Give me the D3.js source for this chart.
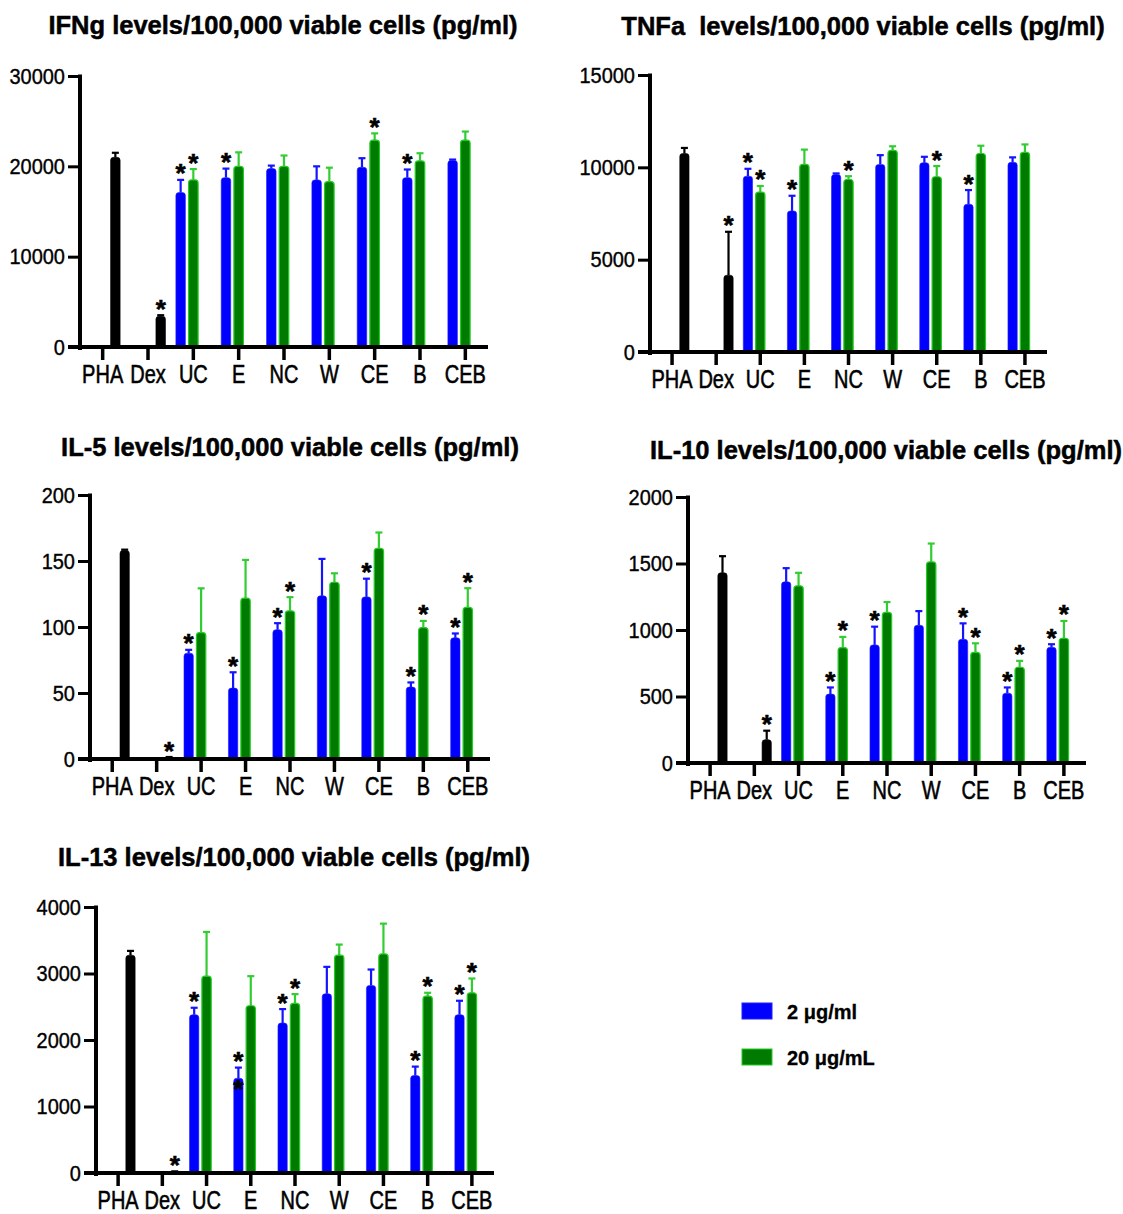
<!DOCTYPE html>
<html>
<head>
<meta charset="utf-8">
<script src="https://cdn.jsdelivr.net/npm/d3@7"></script>
<style>
  body { margin: 0; background: #fff; }
  text { font-family: "Liberation Sans", Arial, sans-serif; fill: #000; }
</style>
</head>
<body>
<svg id="chart" width="1123" height="1214"></svg>
<script>
// categories
const categories = ["PHA", "Dex", "UC", "E", "NC", "W", "CE", "B", "CEB"];
const controls = ["PHA", "Dex"];
const extracts = ["UC", "E", "NC", "W", "CE", "B", "CEB"];
const doses = ["2 μg/ml", "20 μg/mL"];

// IFNg
const ifngControl = [21000, 3400];
const ifngControlErr = [500, 120];
const ifngControlStar = [0, 1];
const ifngLow = [17100, 18750, 19750, 18500, 19900, 18750, 20650];
const ifngLowErr = [1400, 1000, 330, 1500, 1000, 900, 100];
const ifngLowStar = [1, 1, 0, 0, 0, 1, 0];
const ifngHigh = [18500, 20000, 20000, 18300, 22900, 20600, 22900];
const ifngHighErr = [1200, 1550, 1200, 1550, 750, 850, 950];
const ifngHighStar = [1, 0, 0, 0, 1, 0, 0];

// TNFa
const tnfControl = [10750, 4160];
const tnfControlErr = [300, 2350];
const tnfControlStar = [0, 1];
const tnfLow = [9520, 7640, 9610, 10160, 10250, 8000, 10270];
const tnfLowErr = [400, 820, 60, 500, 320, 770, 270];
const tnfLowStar = [1, 1, 0, 0, 0, 1, 0];
const tnfHigh = [8660, 10160, 9340, 10920, 9490, 10750, 10810];
const tnfHighErr = [330, 800, 180, 220, 580, 420, 430];
const tnfHighStar = [1, 0, 1, 0, 1, 0, 0];

// IL-5
const il5Control = [158, 1.2];
const il5ControlErr = [0.6, 0.3];
const il5ControlStar = [0, 1];
const il5Low = [80.2, 53.7, 97.9, 123.6, 122.8, 54.5, 91.8];
const il5LowErr = [2.5, 12, 5, 28, 13.8, 3.5, 3.3];
const il5LowStar = [1, 1, 1, 0, 1, 1, 1];
const il5High = [95.8, 121.8, 112.2, 133.9, 159.6, 99.6, 114.8];
const il5HighErr = [33.5, 29, 10.4, 6.8, 12, 5, 14.6];
const il5HighStar = [0, 0, 1, 0, 0, 1, 1];

// IL-10
const il10Control = [1430, 175];
const il10ControlErr = [125, 68];
const il10ControlStar = [0, 1];
const il10Low = [1362, 518, 888, 1035, 930, 525, 870];
const il10LowErr = [103, 50, 137, 107, 120, 43, 23];
const il10LowStar = [0, 1, 1, 0, 1, 1, 1];
const il10High = [1332, 868, 1132, 1512, 832, 720, 938];
const il10HighErr = [98, 80, 78, 138, 68, 48, 130];
const il10HighStar = [0, 1, 0, 0, 1, 1, 1];

// IL-13
const il13Control = [3275, 20];
const il13ControlErr = [65, 5];
const il13ControlStar = [0, 1];
const il13Low = [2380, 1425, 2255, 2695, 2820, 1465, 2380];
const il13LowErr = [105, 160, 210, 405, 240, 135, 210];
const il13LowStar = [1, 1, 1, 0, 0, 1, 1];
const il13High = [2960, 2515, 2550, 3275, 3295, 2660, 2710];
const il13HighErr = [665, 445, 140, 160, 455, 50, 215];
const il13HighStar = [0, 0, 1, 0, 0, 1, 1];
// stray asterisk sitting inside the E (2 μg/ml) bar
const il13ExtraStar = [{ cat: "E", key: "low", value: 1350 }];

const panels = [
  { title: "IFNg levels/100,000 viable cells (pg/ml)", ctrl: [ifngControl, ifngControlErr, ifngControlStar],
    low: [ifngLow, ifngLowErr, ifngLowStar], high: [ifngHigh, ifngHighErr, ifngHighStar], extra: [],
    max: 30000, step: 10000, left: 80, right: 488, top: 76, bottom: 347, tx: 283, ty: 34 },
  { title: "TNFa  levels/100,000 viable cells (pg/ml)", ctrl: [tnfControl, tnfControlErr, tnfControlStar],
    low: [tnfLow, tnfLowErr, tnfLowStar], high: [tnfHigh, tnfHighErr, tnfHighStar], extra: [],
    max: 15000, step: 5000, left: 650, right: 1047, top: 75, bottom: 352, tx: 863, ty: 35 },
  { title: "IL-5 levels/100,000 viable cells (pg/ml)", ctrl: [il5Control, il5ControlErr, il5ControlStar],
    low: [il5Low, il5LowErr, il5LowStar], high: [il5High, il5HighErr, il5HighStar], extra: [],
    max: 200, step: 50, left: 90, right: 490, top: 495, bottom: 759, tx: 290, ty: 456 },
  { title: "IL-10 levels/100,000 viable cells (pg/ml)", ctrl: [il10Control, il10ControlErr, il10ControlStar],
    low: [il10Low, il10LowErr, il10LowStar], high: [il10High, il10HighErr, il10HighStar], extra: [],
    max: 2000, step: 500, left: 688, right: 1086, top: 497, bottom: 763, tx: 886, ty: 459 },
  { title: "IL-13 levels/100,000 viable cells (pg/ml)", ctrl: [il13Control, il13ControlErr, il13ControlStar],
    low: [il13Low, il13LowErr, il13LowStar], high: [il13High, il13HighErr, il13HighStar], extra: il13ExtraStar,
    max: 4000, step: 1000, left: 96, right: 494, top: 907, bottom: 1173, tx: 294, ty: 866 }
];

const fills = { low: "#0000ff", high: "#007a00", ctrl: "#000" };
const edges = { low: "#2020ff", high: "#22cc22", ctrl: "#000" };
const errColors = { low: "#1414ff", high: "#33cc33", ctrl: "#000" };

const svg = d3.select("#chart");

// bar with a rounded top only
function barPath(x, y, w, h) {
  const r = Math.min(3, h, w / 2);
  return "M" + x + "," + (y + h) +
    "V" + (y + r) +
    "Q" + x + "," + y + " " + (x + r) + "," + y +
    "H" + (x + w - r) +
    "Q" + (x + w) + "," + y + " " + (x + w) + "," + (y + r) +
    "V" + (y + h) + "Z";
}

panels.forEach(p => {
  const g = svg.append("g");

  const x = d3.scaleBand().domain(categories).range([p.left, p.right]).padding(0);
  const half = x.bandwidth() * 0.42;
  const sub = d3.scaleBand().domain(["low", "high", "ctrl"]).range([-half, half])
    .paddingInner(0.25).paddingOuter(0.125);
  const y = d3.scaleLinear().domain([0, p.max]).range([p.bottom, p.top]);

  const rows = [];
  controls.forEach((c, i) => rows.push({ cat: c, key: "ctrl", v: p.ctrl[0][i], e: p.ctrl[1][i], s: p.ctrl[2][i] }));
  extracts.forEach((c, i) => {
    rows.push({ cat: c, key: "low", v: p.low[0][i], e: p.low[1][i], s: p.low[2][i] });
    rows.push({ cat: c, key: "high", v: p.high[0][i], e: p.high[1][i], s: p.high[2][i] });
  });
  const cx = d => x(d.cat) + x.bandwidth() / 2 + sub(d.key) + sub.bandwidth() / 2;

  // error bars (upper only)
  const eb = g.append("g").selectAll("g").data(rows).join("g")
    .attr("stroke", d => errColors[d.key]).attr("stroke-width", 2.2);
  eb.append("line")
    .attr("x1", cx).attr("x2", cx)
    .attr("y1", d => y(d.v)).attr("y2", d => y(d.v + d.e));
  eb.append("line")
    .attr("x1", d => cx(d) - 3.5).attr("x2", d => cx(d) + 3.5)
    .attr("y1", d => y(d.v + d.e)).attr("y2", d => y(d.v + d.e));

  // bars
  g.append("g").selectAll("path").data(rows).join("path")
    .attr("d", d => barPath(cx(d) - sub.bandwidth() / 2, y(d.v), sub.bandwidth(), y(0) - y(d.v)))
    .attr("fill", d => fills[d.key])
    .attr("stroke", d => edges[d.key])
    .attr("stroke-width", d => d.key === "high" ? 1.2 : 0.6);

  // significance asterisks
  const starRows = rows.filter(d => d.s).map(d => ({ cat: d.cat, key: d.key, yc: y(d.v + d.e) - 12.5 }))
    .concat(p.extra.map(d => ({ cat: d.cat, key: d.key, yc: y(d.value) })));
  g.append("g").selectAll("text").data(starRows).join("text")
    .attr("x", cx).attr("y", d => d.yc + 15)
    .attr("text-anchor", "middle")
    .style("font-size", "26px").style("font-weight", "bold")
    .style("stroke", "#000").style("stroke-width", 0.6)
    .text("*");

  // y axis
  const yAxis = g.append("g").attr("transform", "translate(" + p.left + ",0)")
    .call(d3.axisLeft(y).tickValues(d3.range(0, p.max + 1, p.step))
      .tickSize(12).tickPadding(3).tickSizeOuter(0).tickFormat(d3.format("d")));
  yAxis.select(".domain").remove();
  yAxis.selectAll(".tick line").attr("stroke", "#000").attr("stroke-width", 3);
  yAxis.selectAll(".tick text").style("font-size", "20px")
    .style("stroke", "#000").style("stroke-width", 0.35)
    .attr("transform", "scale(1,1.1)");
  g.append("line").attr("x1", p.left).attr("x2", p.left)
    .attr("y1", p.top - 1.5).attr("y2", p.bottom + 3)
    .attr("stroke", "#000").attr("stroke-width", 4);

  // x axis
  const xAxis = g.append("g").attr("transform", "translate(0," + p.bottom + ")")
    .call(d3.axisBottom(x).tickSize(13).tickSizeOuter(0).tickFormat(""));
  xAxis.select(".domain").remove();
  xAxis.selectAll(".tick line").attr("stroke", "#000").attr("stroke-width", 3.5);
  g.append("line").attr("x1", p.left - 12).attr("x2", p.right)
    .attr("y1", p.bottom).attr("y2", p.bottom)
    .attr("stroke", "#000").attr("stroke-width", 4);

  g.append("g").selectAll("text").data(categories).join("text")
    .attr("transform", d => "translate(" + (x(d) + x.bandwidth() / 2) + "," + (p.bottom + 36) + ") scale(1,1.3)")
    .attr("text-anchor", "middle")
    .style("font-size", "20px")
    .style("stroke", "#000").style("stroke-width", 0.45)
    .text(d => d);

  // title
  g.append("text")
    .attr("x", p.tx).attr("y", p.ty)
    .attr("text-anchor", "middle")
    .style("font-size", "25.5px").style("font-weight", "bold")
    .style("stroke", "#000").style("stroke-width", 0.5)
    .style("white-space", "pre")
    .text(p.title);
});

// legend
const legend = svg.append("g").attr("transform", "translate(742,1003)");
const legendKeys = ["low", "high"];
const ly = d3.scalePoint().domain(doses).range([0, 46]);
doses.forEach((d, i) => {
  legend.append("rect").attr("x", 0).attr("y", ly(d)).attr("width", 30).attr("height", 16)
    .attr("fill", fills[legendKeys[i]]).attr("stroke", edges[legendKeys[i]]).attr("stroke-width", 1);
  legend.append("text").attr("x", 45).attr("y", ly(d) + 16)
    .style("font-size", "20px").style("font-weight", "bold")
    .style("stroke", "#000").style("stroke-width", 0.3)
    .text(d);
});
</script>
</body>
</html>
